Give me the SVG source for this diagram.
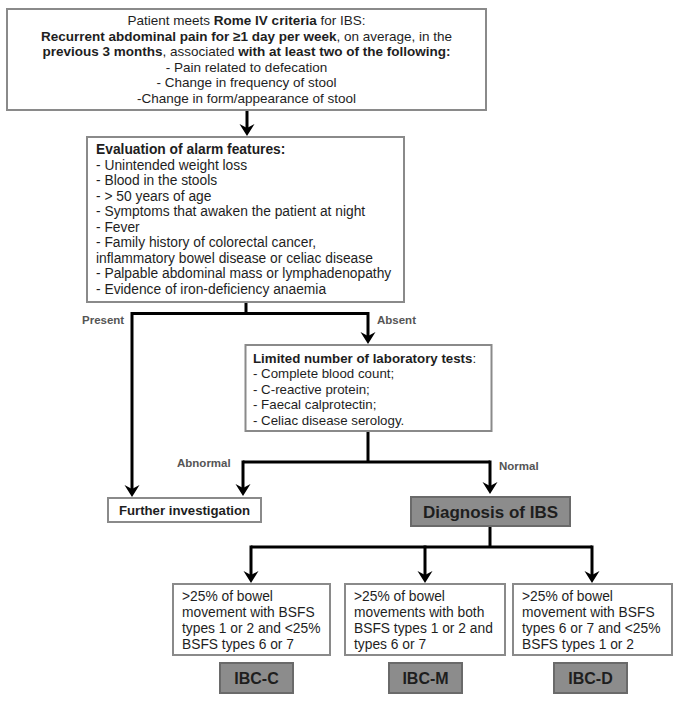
<svg xmlns="http://www.w3.org/2000/svg" width="689" height="707" viewBox="0 0 689 707">
<style>
.box{fill:#fff;stroke:#8a8a8a;stroke-width:2}
.gbox{fill:#8c8c8c;stroke:#6a6a6a;stroke-width:2}
.t{font-family:"Liberation Sans",Arial,sans-serif;font-size:13.5px;fill:#1e1e1e}
.s{font-size:13.8px}
.b{font-weight:bold}
.c{text-anchor:middle}
.lbl{font-family:"Liberation Sans",Arial,sans-serif;font-size:11.5px;font-weight:bold;fill:#555}
.con{fill:none;stroke:#000;stroke-width:3}
</style>
<defs>
<marker id="ah" markerUnits="userSpaceOnUse" viewBox="-13 -8 14 16" markerWidth="14" markerHeight="16" refX="-6" refY="0" orient="auto" overflow="visible">
<path d="M0,0 L-12,-7.5 L-8,0 L-12,7.5 Z" fill="#000"/>
</marker>
</defs>
<rect width="689" height="707" fill="#fff"/>
<g id="connectors">
<path class="con" d="M247,111 V130" marker-end="url(#ah)"/>
<path class="con" d="M246,302 V313.5"/>
<path class="con" d="M132,313.5 H368"/>
<path class="con" d="M132,312 V491" marker-end="url(#ah)"/>
<path class="con" d="M368,312 V338" marker-end="url(#ah)"/>
<path class="con" d="M368,431 V462"/>
<path class="con" d="M243,462 H490"/>
<path class="con" d="M243,460.5 V490" marker-end="url(#ah)"/>
<path class="con" d="M490,460.5 V488" marker-end="url(#ah)"/>
<path class="con" d="M490,526 V547"/>
<path class="con" d="M251,547 H592"/>
<path class="con" d="M251,545.5 V577" marker-end="url(#ah)"/>
<path class="con" d="M425,545.5 V577" marker-end="url(#ah)"/>
<path class="con" d="M592,545.5 V577" marker-end="url(#ah)"/>
</g>
<g id="labels">
<text class="lbl" x="82" y="324">Present</text>
<text class="lbl" x="377" y="324">Absent</text>
<text class="lbl" x="177" y="467">Abnormal</text>
<text class="lbl" x="499" y="470">Normal</text>
</g>
<g id="rome">
<rect class="box" x="7" y="9" width="479" height="101"/>
<text class="t c" x="246.5" y="25">Patient meets <tspan class="b">Rome IV criteria</tspan> for IBS:</text>
<text class="t c" x="246.5" y="40.5"><tspan class="b">Recurrent abdominal pain for ≥1 day per week</tspan>, on average, in the</text>
<text class="t c" x="246.5" y="56"><tspan class="b">previous 3 months</tspan>, associated <tspan class="b">with at least two of the following:</tspan></text>
<text class="t c" x="246.5" y="71.5">- Pain related to defecation</text>
<text class="t c" x="246.5" y="87">- Change in frequency of stool</text>
<text class="t c" x="246.5" y="102.5">-Change in form/appearance of stool</text>
</g>
<g id="alarm">
<rect class="box" x="87" y="137" width="317" height="165"/>
<text class="t s b" x="96" y="154">Evaluation of alarm features:</text>
<text class="t s" x="96" y="169.5">- Unintended weight loss</text>
<text class="t s" x="96" y="185">- Blood in the stools</text>
<text class="t s" x="96" y="200.5">- &gt; 50 years of age</text>
<text class="t s" x="96" y="216">- Symptoms that awaken the patient at night</text>
<text class="t s" x="96" y="231.5">- Fever</text>
<text class="t s" x="96" y="247">- Family history of colorectal cancer,</text>
<text class="t s" x="96" y="262.5">inflammatory bowel disease or celiac disease</text>
<text class="t s" x="96" y="278">- Palpable abdominal mass or lymphadenopathy</text>
<text class="t s" x="96" y="293.5">- Evidence of iron-deficiency anaemia</text>
</g>
<g id="lab">
<rect class="box" x="245.5" y="345" width="246" height="86"/>
<text class="t" x="253" y="362.5" style="font-size:13.3px"><tspan class="b">Limited number of laboratory tests</tspan>:</text>
<text class="t" x="253" y="378" style="font-size:13.3px">- Complete blood count;</text>
<text class="t" x="253" y="393.5" style="font-size:13.3px">- C-reactive protein;</text>
<text class="t" x="253" y="409" style="font-size:13.3px">- Faecal calprotectin;</text>
<text class="t" x="253" y="424.5" style="font-size:13.3px">- Celiac disease serology.</text>
</g>
<g id="further">
<rect class="box" x="108" y="498" width="153" height="24"/>
<text class="t b c" x="184.5" y="515" style="font-size:13.2px">Further investigation</text>
</g>
<g id="diagnosis">
<rect class="gbox" x="411" y="497" width="159" height="29"/>
<text class="t b c" x="490.5" y="517.5" style="font-size:17px">Diagnosis of IBS</text>
</g>
<g id="ibsc-criteria">
<rect class="box" x="173" y="584" width="157" height="71"/>
<text class="t s" x="182" y="600.5">&gt;25% of bowel</text>
<text class="t s" x="182" y="616.5">movement with BSFS</text>
<text class="t s" x="182" y="632.5">types 1 or 2 and &lt;25%</text>
<text class="t s" x="182" y="648.5">BSFS types 6 or 7</text>
</g>
<g id="ibsm-criteria">
<rect class="box" x="345" y="584" width="160" height="71"/>
<text class="t s" x="354" y="600.5">&gt;25% of bowel</text>
<text class="t s" x="354" y="616.5">movements with both</text>
<text class="t s" x="354" y="632.5">BSFS types 1 or 2 and</text>
<text class="t s" x="354" y="648.5">types 6 or 7</text>
</g>
<g id="ibsd-criteria">
<rect class="box" x="513" y="584" width="159" height="71"/>
<text class="t s" x="522" y="600.5">&gt;25% of bowel</text>
<text class="t s" x="522" y="616.5">movement with BSFS</text>
<text class="t s" x="522" y="632.5">types 6 or 7 and &lt;25%</text>
<text class="t s" x="522" y="648.5">BSFS types 1 or 2</text>
</g>
<g id="ibc-c">
<rect class="gbox" x="220" y="663" width="73" height="30"/>
<text class="t b c" x="256.5" y="684" style="font-size:16px">IBC-C</text>
</g>
<g id="ibc-m">
<rect class="gbox" x="389" y="663" width="73" height="30"/>
<text class="t b c" x="425.5" y="684" style="font-size:16px">IBC-M</text>
</g>
<g id="ibc-d">
<rect class="gbox" x="554" y="663" width="73" height="30"/>
<text class="t b c" x="590.5" y="684" style="font-size:16px">IBC-D</text>
</g>
</svg>
